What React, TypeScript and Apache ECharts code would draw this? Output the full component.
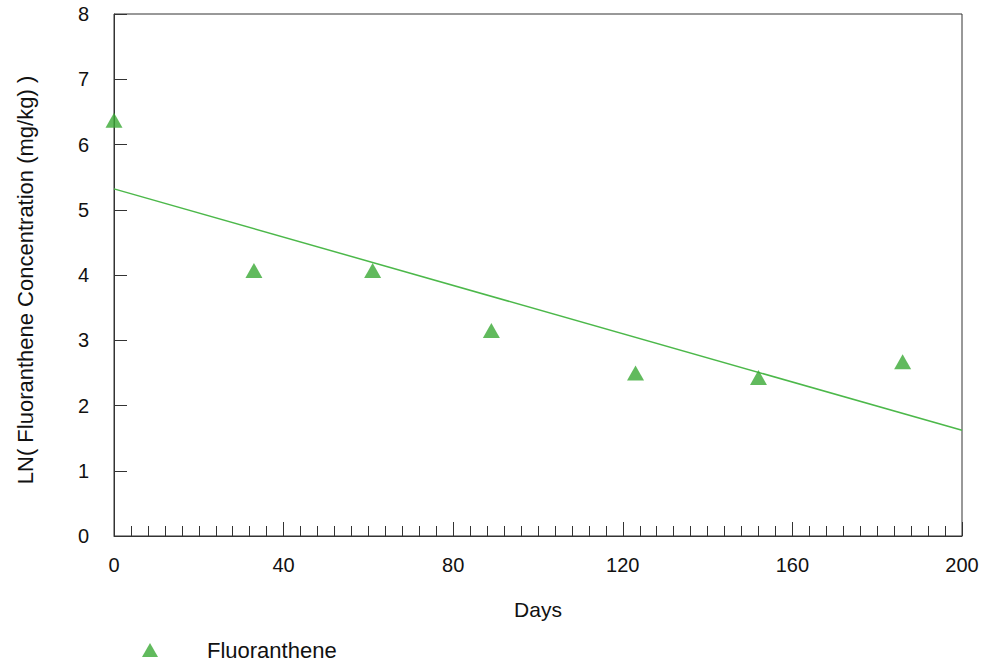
import React, { useEffect, useRef } from "react";
import * as echarts from "echarts";

const seriesName = "Fluoranthene";
const days = [0, 33, 61, 89, 123, 152, 186];
const lnConc = [6.37, 4.07, 4.07, 3.15, 2.5, 2.43, 2.67];
const fitDays = [0, 200];
const fitValues = [5.32, 1.62];
const xTitle = "Days";
const yTitle = "LN( Fluoranthene Concentration (mg/kg) )";

const FONT = "'Liberation Sans', Arial, Helvetica, sans-serif";

export default function App() {
  const ref = useRef<HTMLDivElement>(null);
  useEffect(() => {
    if (!ref.current) return;
    const chart = echarts.init(ref.current, null, { renderer: "svg" });
    chart.setOption({
      animation: false,
      backgroundColor: "#ffffff",
      textStyle: { fontFamily: FONT },
      grid: {
        left: 114,
        right: 24,
        top: 14,
        bottom: 131,
        show: true,
        borderColor: "#333",
        borderWidth: 1,
        backgroundColor: "transparent",
      },
      legend: {
        data: [seriesName],
        left: 137,
        top: 634,
        icon: "triangle",
        itemWidth: 16,
        itemHeight: 14,
        textStyle: {
          fontFamily: FONT,
          fontSize: 22,
          color: "#111",
          padding: [0, 0, 0, 44],
        },
      },
      xAxis: {
        type: "value",
        min: 0,
        max: 200,
        interval: 40,
        name: xTitle,
        nameLocation: "middle",
        nameGap: 63,
        nameTextStyle: { fontFamily: FONT, fontSize: 21, color: "#111" },
        axisLine: { show: true, lineStyle: { color: "#333", width: 1 } },
        axisTick: { show: true, inside: true, length: 14, lineStyle: { color: "#333" } },
        minorTick: { show: true, splitNumber: 10, length: 10, lineStyle: { color: "#333" } },
        axisLabel: { fontFamily: FONT, fontSize: 20, color: "#111", margin: 19 },
        splitLine: { show: false },
      },
      yAxis: {
        type: "value",
        min: 0,
        max: 8,
        interval: 1,
        name: yTitle,
        nameLocation: "middle",
        nameGap: 78,
        nameTextStyle: { fontFamily: FONT, fontSize: 22, color: "#111", padding: [0, 10, 0, 0] },
        axisLine: { show: true, lineStyle: { color: "#333", width: 1 } },
        axisTick: { show: true, inside: true, length: 13, lineStyle: { color: "#333" } },
        axisLabel: { fontFamily: FONT, fontSize: 20, color: "#111", margin: 25 },
        splitLine: { show: false },
      },
      series: [
        {
          name: "fit",
          type: "line",
          data: fitDays.map((d, i) => [d, fitValues[i]]),
          symbol: "none",
          lineStyle: { color: "#4cb84a", width: 1.5 },
          silent: true,
          z: 1,
        },
        {
          name: seriesName,
          type: "scatter",
          data: days.map((d, i) => [d, lnConc[i]]),
          symbol: "triangle",
          symbolSize: [17, 15],
          itemStyle: { color: "#3aa935" },
          z: 3,
        },
      ],
    });
    return () => chart.dispose();
  }, []);
  return (
    <div
      ref={ref}
      style={{ position: "fixed", left: 0, top: 0, width: 986, height: 667, background: "#fff" }}
    />
  );
}
